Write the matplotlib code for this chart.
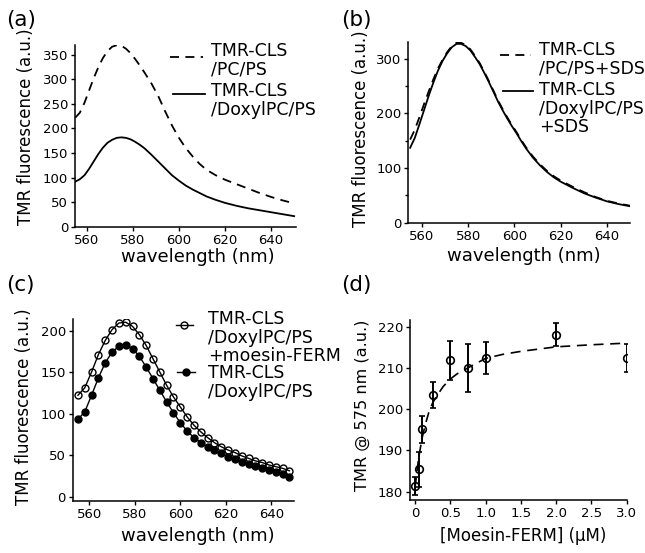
import matplotlib
matplotlib.use('Agg')
import matplotlib.pyplot as plt
from matplotlib.lines import Line2D
from matplotlib.ticker import MultipleLocator, FixedLocator, FixedFormatter

# ---- (a) TMR-CLS with PC/PS vs DoxylPC/PS
wl_a = [555, 557, 559, 561, 563, 565, 567, 569, 571, 573, 575, 577, 579, 581,
        583, 585, 588, 591, 594, 597, 600, 603, 606, 609, 612, 616, 620, 625,
        630, 635, 640, 645, 650]
a_pcps = [222, 232, 252, 277, 302, 324, 343, 357, 366, 369, 368, 362, 353, 341,
          328, 314, 292, 266, 235, 206, 181, 160, 143, 128, 116, 105, 96, 87,
          78, 69, 61, 54, 48]
a_doxyl = [92, 97, 105, 118, 133, 148, 161, 171, 177, 181, 182, 181, 178, 173,
           167, 160, 147, 133, 119, 105, 94, 84, 76, 69, 62, 55, 49, 43,
           38, 34, 30, 26, 22]

# ---- (b) same with SDS
wl_b = [555, 557, 559, 561, 563, 565, 567, 569, 571, 573, 575, 577, 579, 581,
        583, 585, 587, 589, 591, 593, 595, 597, 599, 601, 603, 605, 608, 611,
        614, 617, 620, 625, 630, 635, 640, 645, 650]
b_pcps = [152, 170, 193, 217, 240, 262, 282, 298, 312, 323, 329, 329, 325, 317,
          305, 292, 276, 259, 241, 223, 207, 192, 178, 165, 151, 138, 121, 107,
          95, 85, 77, 66, 56, 47, 40, 35, 31]
b_doxyl = [137, 155, 180, 206, 232, 256, 278, 296, 310, 321, 327, 327, 323, 315,
           303, 290, 274, 257, 239, 221, 205, 190, 176, 163, 149, 136, 119, 105,
           93, 83, 75, 64, 54, 46, 39, 34, 30]

# ---- (c) with / without moesin-FERM
wl_c = list(range(555, 649, 3))
c_ferm = [122, 131, 150, 171, 188, 201, 209, 210, 205, 195, 182, 166, 150, 134,
          120, 108, 96, 86, 78, 71, 65, 60, 56, 53, 49, 46, 43, 41, 38, 36, 34, 31]
c_doxyl = [93, 102, 122, 143, 161, 174, 181, 182, 178, 169, 156, 142, 128, 114,
           101, 89, 79, 71, 65, 60, 56, 52, 48, 45, 42, 39, 37, 34, 32, 29, 27, 24]

# ---- (d) titration
conc = [0, 0.05, 0.1, 0.25, 0.5, 0.75, 1.0, 2.0, 3.0]
tmr575 = [181.3, 185.4, 195.1, 203.4, 211.8, 209.9, 212.4, 218.0, 212.5]
tmr_err = [2.2, 4.3, 3.2, 3.1, 4.7, 5.8, 3.9, 2.8, 3.4]
fit_x = [0, 0.05, 0.1, 0.15, 0.2, 0.25, 0.3, 0.4, 0.5, 0.6, 0.75, 1.0, 1.25,
         1.5, 2.0, 2.5, 3.0]
fit_y = [181, 188, 193, 196.5, 199.5, 201.5, 203, 205.5, 207.3, 208.6, 210,
         212.3, 213.3, 214, 215.1, 215.6, 216]

W, H = 645, 553
fig = plt.figure(figsize=(W / 100, H / 100), dpi=100)


def box(l, t, r, b):
    return [l / W, 1 - b / H, (r - l) / W, (b - t) / H]


def style(ax):
    for s in ['top', 'right']:
        ax.spines[s].set_visible(False)
    for s in ['left', 'bottom']:
        ax.spines[s].set_linewidth(1.1)
    ax.tick_params(which='both', direction='out', length=3, width=1,
                   labelsize=9.5, pad=2)
    ax.tick_params(which='minor', length=2.5)


def key(x0, x1, y, tx, ty, text, **kw):
    # legend key drawn in figure pixels
    xm = (x0 + x1) / 2
    fig.add_artist(Line2D([x0 / W, xm / W, x1 / W], [1 - y / H] * 3,
                          transform=fig.transFigure, color='k', **kw))
    fig.text(tx / W, 1 - ty / H, text, va='top', ha='left', fontsize=12.5,
             linespacing=1.05)


dash = (5, 3.5)

# (a)
ax = fig.add_axes(box(75, 45, 296, 227))
ax.plot(wl_a, a_pcps, color='k', lw=1.3, dashes=dash)
ax.plot(wl_a, a_doxyl, color='k', lw=1.3)
ax.set_xlim(554.9, 650.8)
ax.set_ylim(0, 369.5)
ax.xaxis.set_major_locator(FixedLocator([560, 580, 600, 620, 640]))
ax.yaxis.set_major_locator(MultipleLocator(50))
style(ax)
ax.set_xlabel('wavelength (nm)', fontsize=13)
ax.set_ylabel('TMR fluorescence (a.u.)', fontsize=12)
ax.xaxis.set_label_coords(0.557, -0.115)
ax.yaxis.set_label_coords(-0.181, 0.55)
key(170, 203, 57, 211, 42, 'TMR-CLS\n/PC/PS', lw=1.3, dashes=dash)
key(173, 205, 94, 211, 82, 'TMR-CLS\n/DoxylPC/PS', lw=1.3)
fig.text(6 / W, 1 - 20 / H, '(a)', fontsize=15.5, va='center')

# (b)
ax = fig.add_axes(box(408.3, 41.7, 630, 222.7))
ax.plot(wl_b, b_pcps, color='k', lw=1.3, dashes=dash)
ax.plot(wl_b, b_doxyl, color='k', lw=1.3)
ax.set_xlim(554.2, 649.9)
ax.set_ylim(0, 331)
ax.xaxis.set_major_locator(FixedLocator([560, 580, 600, 620, 640]))
ax.yaxis.set_major_locator(MultipleLocator(100))
ax.yaxis.set_minor_locator(MultipleLocator(50))
style(ax)
ax.set_xlabel('wavelength (nm)', fontsize=13)
ax.set_ylabel('TMR fluorescence (a.u.)', fontsize=12)
ax.xaxis.set_label_coords(0.52, -0.134)
ax.yaxis.set_label_coords(-0.173, 0.52)
key(500, 531, 55, 539, 41, 'TMR-CLS\n/PC/PS+SDS', lw=1.3, dashes=dash)
key(503, 533, 90.7, 539, 81, 'TMR-CLS\n/DoxylPC/PS\n+SDS', lw=1.3)
fig.text(341 / W, 1 - 20 / H, '(b)', fontsize=15.5, va='center')

# (c)
ax = fig.add_axes(box(72.7, 319.3, 294, 500.7))
ax.plot(wl_c, c_ferm, color='k', lw=1, marker='o', ms=5, mfc='none',
        mec='k', mew=1)
ax.plot(wl_c, c_doxyl, color='k', lw=1, marker='o', ms=5, mfc='k', mec='k')
ax.set_xlim(552.7, 650)
ax.set_ylim(-5, 213.5)
ax.xaxis.set_major_locator(FixedLocator([560, 580, 600, 620, 640]))
ax.yaxis.set_major_locator(MultipleLocator(50))
style(ax)
ax.set_xlabel('wavelength (nm)', fontsize=13)
ax.set_ylabel('TMR fluorescence (a.u.)', fontsize=12)
ax.xaxis.set_label_coords(0.566, -0.145)
ax.yaxis.set_label_coords(-0.179, 0.518)
key(176, 193, 325, 208.5, 310, 'TMR-CLS\n/DoxylPC/PS\n+moesin-FERM', lw=1,
    marker='o', ms=5, mfc='none', mew=1, markevery=[1])
key(177, 195, 371.7, 208.5, 364, 'TMR-CLS\n/DoxylPC/PS', lw=1,
    marker='o', ms=5, mfc='k', markevery=[1])
fig.text(6 / W, 1 - 285 / H, '(c)', fontsize=15.5, va='center')

# (d)
ax = fig.add_axes(box(410, 320, 626.7, 500))
ax.plot(fit_x, fit_y, color='k', lw=1.2, dashes=(6, 4))
ax.errorbar(conc, tmr575, yerr=tmr_err, fmt='o', color='k', ms=5.5,
            mfc='none', mec='k', mew=1.2, elinewidth=1.4, capsize=2.5,
            capthick=1.2)
ax.set_xlim(-0.071, 3.0)
ax.set_ylim(178, 221.6)
ticks_d = [0, 0.5, 1.0, 1.5, 2.0, 2.5, 3.0]
ax.xaxis.set_major_locator(FixedLocator(ticks_d))
ax.xaxis.set_major_formatter(FixedFormatter(['0', '0.5', '1.0', '1.5', '2.0',
                                             '2.5', '3.0']))
ax.yaxis.set_major_locator(MultipleLocator(10))
style(ax)
ax.set_xlabel('[Moesin-FERM] (μM)', fontsize=12)
ax.set_ylabel('TMR @ 575 nm (a.u.)', fontsize=11.6)
ax.xaxis.set_label_coords(0.523, -0.15)
ax.yaxis.set_label_coords(-0.185, 0.528)
fig.text(341 / W, 1 - 285 / H, '(d)', fontsize=15.5, va='center')

fig.savefig('out.png', dpi=100)
